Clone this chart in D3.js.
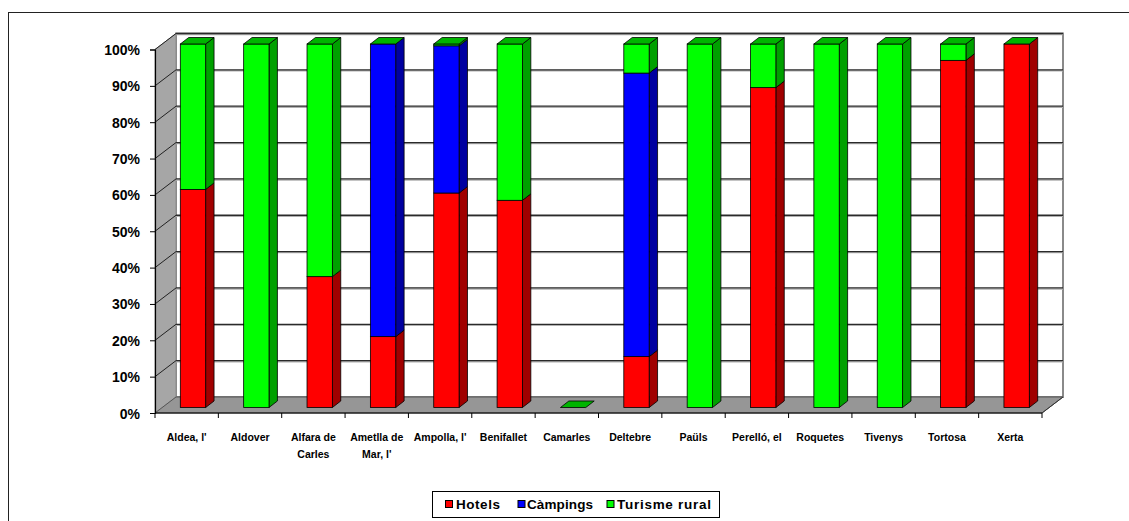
<!DOCTYPE html>
<html><head><meta charset="utf-8">
<script src="https://cdn.jsdelivr.net/npm/d3@7"></script>
<style>
body{margin:0;background:#fff;}
svg{display:block;font-family:"Liberation Sans",Arial,sans-serif;}
</style></head>
<body><svg id="c" width="1129" height="521"></svg>
<script>
const categories = ["Aldea, l'","Aldover","Alfara de Carles","Ametlla de Mar, l'","Ampolla, l'","Benifallet","Camarles","Deltebre","Paüls","Perelló, el","Roquetes","Tivenys","Tortosa","Xerta"];
const hotels   = [60, 0, 36, 19.5, 59, 57, 0, 14, 0, 88, 0, 0, 95.5, 100];
const campings = [0, 0, 0, 80.5, 40.5, 0, 0, 78, 0, 0, 0, 0, 0, 0];
const turisme  = [40, 100, 64, 0, 0.5, 43, 0, 8, 100, 12, 100, 100, 4.5, 0];
const seriesNames = ["Hotels","Càmpings","Turisme rural"];
const tickValues = [0,10,20,30,40,50,60,70,80,90,100];

const frontCol = ["#FF0000","#0000FF","#00FF00"];
const sideCol  = ["#A00000","#0000A0","#00A000"];
const topGreen = "#00B400";

const svg = d3.select("#c");
// outer frame
svg.append("rect").attr("x",8.5).attr("y",12.5).attr("width",1140).attr("height",540)
  .attr("fill","none").attr("stroke","#222").attr("stroke-width",1);

const X0 = 155, X1 = 1042, Y0 = 413, YT = 49.5;
const DX = 21, DY = -16; // wall depth
const y = d3.scaleLinear().domain([0,100]).range([Y0, YT]);
const x = d3.scaleBand().domain(categories).range([X0, X1]);
const bw = x.bandwidth();

const g = svg.append("g");
// back wall
g.append("rect").attr("x",X0+DX).attr("y",y(100)+DY).attr("width",X1-X0).attr("height",y(0)-y(100))
  .attr("fill","#fff").attr("stroke","#8a8a8a").attr("stroke-width",2);
// left side wall
g.append("polygon").attr("points",[[X0,y(100)],[X0+DX,y(100)+DY],[X0+DX,y(0)+DY],[X0,y(0)]].join(" "))
  .attr("fill","#a6a6a6").attr("stroke","#8a8a8a").attr("stroke-width",1);
// floor
g.append("polygon").attr("points",[[X0,y(0)],[X0+DX,y(0)+DY],[X1+DX,y(0)+DY],[X1,y(0)]].join(" "))
  .attr("fill","#969696").attr("stroke","#555").attr("stroke-width",1);

// gridlines
tickValues.filter(v=>v>0).forEach(v=>{
  const yy = y(v);
  g.append("line").attr("x1",X0+DX).attr("x2",X1+DX).attr("y1",yy+DY+1).attr("y2",yy+DY+1)
    .attr("stroke","#b0b0b0").attr("stroke-width",1.5);
  g.append("line").attr("x1",X0+DX).attr("x2",X1+DX).attr("y1",yy+DY).attr("y2",yy+DY)
    .attr("stroke","#2a2a2a").attr("stroke-width",1.3);
  g.append("line").attr("x1",X0).attr("x2",X0+DX).attr("y1",yy).attr("y2",yy+DY)
    .attr("stroke","#222").attr("stroke-width",1);
});

// left axis
const ax = svg.append("g").attr("transform",`translate(${X0},0)`)
  .call(d3.axisLeft(y).tickValues(tickValues).tickFormat(d=>d+"%").tickSize(5).tickPadding(10));
ax.select(".domain").attr("stroke","#000").attr("stroke-width",1.2);
ax.selectAll(".tick line").attr("stroke","#000");
ax.selectAll("text").attr("font-size","14px").attr("font-weight","bold")
  .attr("font-family","'Liberation Sans',Arial,sans-serif").attr("fill","#000").attr("dy","0.36em");

// bottom axis line and ticks
svg.append("line").attr("x1",X0).attr("x2",X1).attr("y1",Y0).attr("y2",Y0).attr("stroke","#000").attr("stroke-width",1.2);
svg.append("line").attr("x1",X1).attr("x2",X1+DX).attr("y1",Y0).attr("y2",Y0+DY).attr("stroke","#333").attr("stroke-width",1);
categories.concat([null]).forEach((c,i)=>{
  const xx = c===null ? X1 : x(c);
  svg.append("line").attr("x1",xx).attr("x2",xx).attr("y1",Y0).attr("y2",Y0+5).attr("stroke","#000");
});

// data
const rows = categories.map((c,i)=>{
  const vals=[hotels[i],campings[i],turisme[i]];
  const tot=d3.sum(vals);
  return {c, vals: vals.map(v=> tot>0 ? v/tot*100 : 0)};
});

const OX = 6.3, OY = -5.5; // bar front plane offset
const BDX = 8.4, BDY = -6.5; // bar depth
const w = bw*0.40;
const bars = svg.append("g");
rows.forEach(r=>{
  const bx = x(r.c) + bw/2 + OX - w/2;
  let cum = 0;
  r.vals.forEach((v,s)=>{
    if(v<=0) return;
    const y0 = y(cum)+OY, y1 = y(cum+v)+OY;
    cum += v;
    bars.append("polygon").attr("points",[[bx+w,y1],[bx+w+BDX,y1+BDY],[bx+w+BDX,y0+BDY],[bx+w,y0]].join(" "))
      .attr("fill",sideCol[s]).attr("stroke","#000").attr("stroke-width",0.8);
    bars.append("rect").attr("x",bx).attr("y",y1).attr("width",w).attr("height",y0-y1)
      .attr("fill",frontCol[s]).attr("stroke","#000").attr("stroke-width",0.8);
  });
  const yt = y(cum)+OY;
  bars.append("polygon").attr("points",[[bx,yt],[bx+BDX,yt+BDY],[bx+w+BDX,yt+BDY],[bx+w,yt]].join(" "))
    .attr("fill",topGreen).attr("stroke","#000").attr("stroke-width",0.8);
});

// category labels (wrapped)
const lab = svg.append("g").attr("font-size","10.5px").attr("font-weight","bold").attr("fill","#000");
categories.forEach(c=>{
  const t = lab.append("text").attr("text-anchor","middle").attr("x",x(c)+bw/2).attr("y",441);
  const words = c.split(" ");
  let line = [], lines=[];
  const probe = lab.append("text");
  words.forEach(wd=>{
    const test = line.concat([wd]).join(" ");
    probe.text(test);
    if(probe.node().getComputedTextLength() > bw-4 && line.length){ lines.push(line.join(" ")); line=[wd]; }
    else line.push(wd);
  });
  lines.push(line.join(" "));
  probe.remove();
  lines.forEach((ln,k)=>{
    t.append("tspan").attr("x",x(c)+bw/2).attr("dy",k===0?0:17).text(ln);
  });
});

// legend
const leg = svg.append("g");
leg.append("rect").attr("x",432.5).attr("y",491.5).attr("width",287).attr("height",26)
  .attr("fill","#fff").attr("stroke","#000").attr("stroke-width",1);
const legSq = [445.5, 518, 607], legTx = [456, 527, 617], legW = [44, 66, 94];
seriesNames.forEach((n,i)=>{
  leg.append("rect").attr("x",legSq[i]).attr("y",500.5).attr("width",7).attr("height",7)
    .attr("fill",frontCol[i]).attr("stroke","#000").attr("stroke-width",1);
  leg.append("text").attr("x",legTx[i]).attr("y",509).attr("font-size","13.5px").attr("font-weight","bold")
    .attr("textLength",legW[i]).attr("lengthAdjust","spacing").text(n);
});
</script>
</body></html>
